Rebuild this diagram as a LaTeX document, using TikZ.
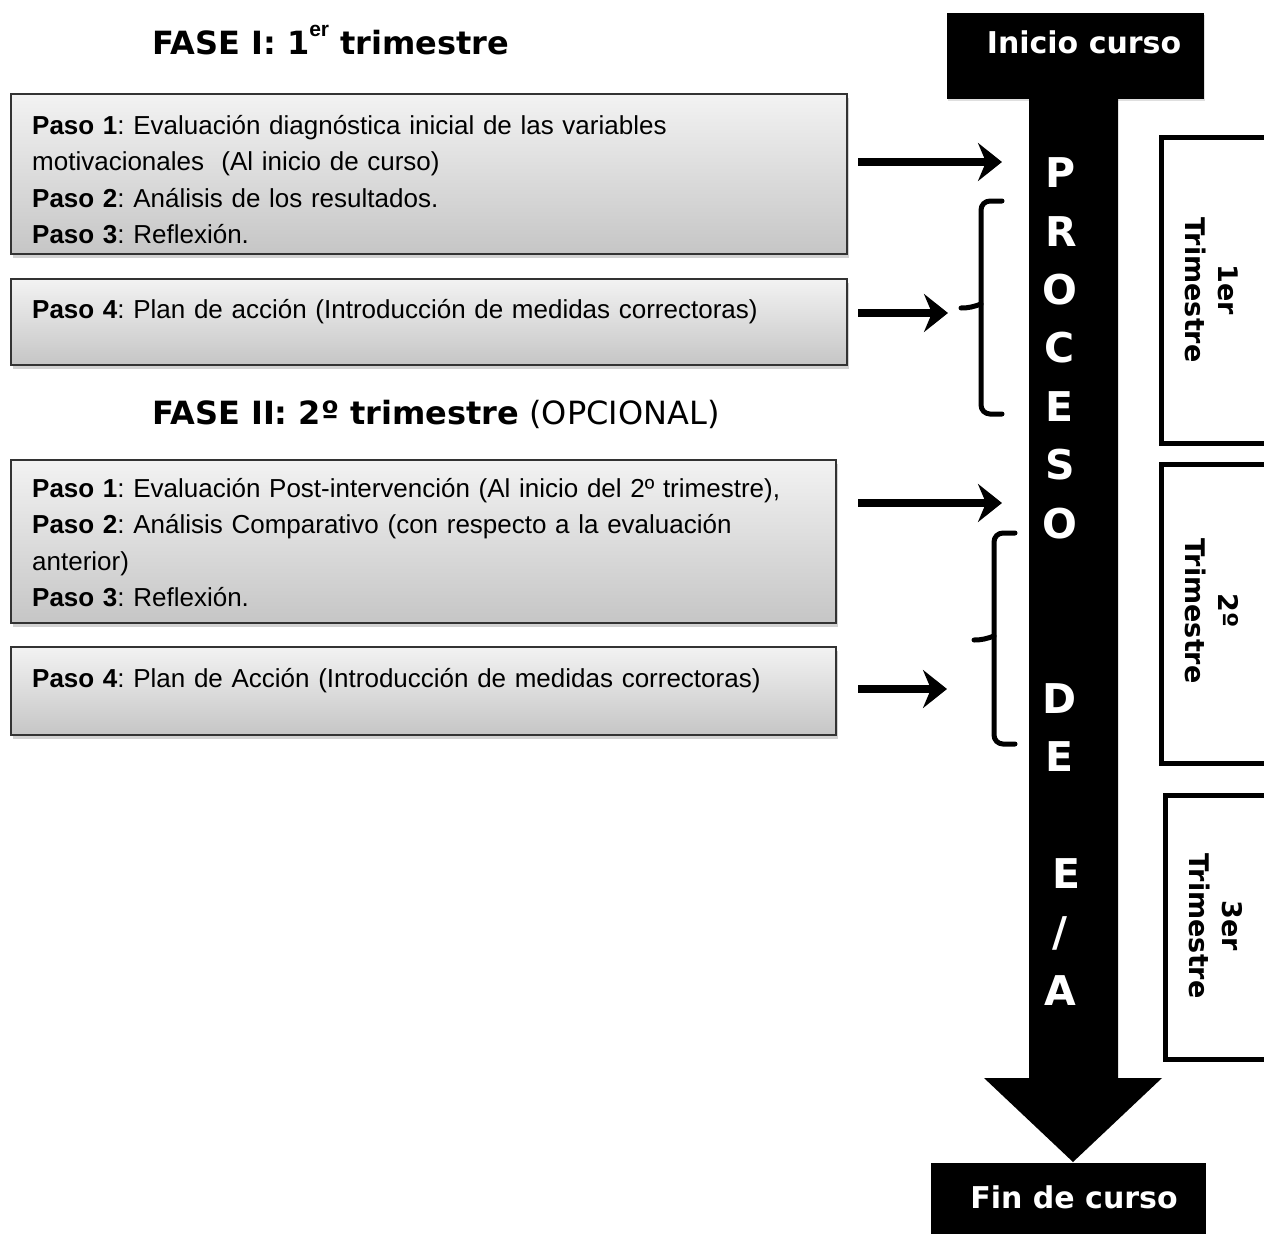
\documentclass[tikz,border=0pt]{standalone}
\usepackage{fontspec}
\setmainfont{Liberation Sans}
\newfontfamily\dvs{DejaVu Sans}
\usetikzlibrary{arrows.meta,shadows}
\frenchspacing

\tikzset{
  stepbox/.style={draw=black!80, line width=2.2pt, top color=gray!10, bottom color=gray!45,
    drop shadow={shadow xshift=1.5pt, shadow yshift=-4pt, opacity=0.35},
    anchor=north west, inner sep=0},
  steptext/.style={anchor=base west, inner sep=0, text width=800pt, align=left,
    font=\fontsize{26}{36.6}\selectfont},
  phase/.style={anchor=base west, inner sep=0, font=\fontsize{32}{38}\dvs},
  blackbox/.style={fill=black, anchor=north west, inner sep=0},
  endlabel/.style={text=white, inner sep=0, anchor=base, font=\fontsize{30}{36}\dvs\bfseries},
  vletter/.style={text=white, inner sep=0, anchor=base, font=\fontsize{41}{41}\dvs\bfseries},
  termbox/.style={draw=black, line width=4.5pt, fill=white, anchor=north west, inner sep=0},
  termtext/.style={rotate=-90, align=center, inner sep=0, font=\fontsize{27}{33}\dvs\bfseries},
  pointer/.style={line width=8pt, -{Stealth[length=24pt, width=38pt, inset=8pt]}},
  brace/.style={line width=5pt, rounded corners=9pt, line cap=round},
}

\begin{document}
\begin{tikzpicture}[x=1pt,y=-1pt]
\useasboundingbox (0,0) rectangle (1264,1234);
\clip (0,0) rectangle (1264,1234);
\fill[white] (0,0) rectangle (1264,1234);

% phase headings
\node[phase] (f1) at (152,54) {\bfseries FASE I: 1\raisebox{18pt}{\fontsize{21}{21}\rmfamily\bfseries er} trimestre};
\node[phase] (f2) at (152,424) {\textbf{FASE II: 2º trimestre} (OPCIONAL)};

% step boxes
\node[stepbox, minimum width=836pt, minimum height=160pt] (b1) at (10,93) {};
\node[stepbox, minimum width=836pt, minimum height=86pt]  (b2) at (10,278) {};
\node[stepbox, minimum width=825pt, minimum height=163pt] (b3) at (10,459) {};
\node[stepbox, minimum width=825pt, minimum height=88pt]  (b4) at (10,646) {};

\node[steptext] (s1) at (32,134) {\textbf{Paso 1}: Evaluación diagnóstica inicial de las variables\\
motivacionales~ (Al inicio de curso)\\
\textbf{Paso 2}: Análisis de los resultados.\\
\textbf{Paso 3}: Reflexión.};
\node[steptext] (s2) at (32,318) {\textbf{Paso 4}: Plan de acción (Introducción de medidas correctoras)};
\node[steptext] (s3) at (32,497) {\textbf{Paso 1}: Evaluación Post-intervención (Al inicio del 2º trimestre),\\
\textbf{Paso 2}: Análisis Comparativo (con respecto a la evaluación\\
anterior)\\
\textbf{Paso 3}: Reflexión.};
\node[steptext] (s4) at (32,687) {\textbf{Paso 4}: Plan de Acción (Introducción de medidas correctoras)};

% timeline: start block, shaft with arrow head, end block
\node[blackbox, minimum width=257pt, minimum height=86pt,
  drop shadow={shadow xshift=1pt, shadow yshift=-2pt, opacity=0.25}] (ini) at (947,13) {};
\node[endlabel] (inil) at (1084,53) {Inicio curso};
\fill (1029,98) -- (1118,98) -- (1118,1078) -- (1162,1078) -- (1073,1162)
  -- (984,1078) -- (1029,1078) -- cycle;
\node[blackbox, minimum width=275pt, minimum height=90pt] (fin) at (931,1163) {};
\node[endlabel] (finl) at (1074,1208) {Fin de curso};

\foreach \ch/\xx/\yy [count=\k] in {P/1061/187, R/1061/246, O/1060/304, C/1060/362,
    E/1059/421, S/1060/479, O/1060/538, D/1060/713, E/1059/771, E/1066/888,
    \slash/1060/946, A/1060/1005}
  \node[vletter] (v\k) at (\xx,\yy) {\ch};

% term boxes
\node[termbox, minimum width=140pt, minimum height=306pt] (q1) at (1159,135) {};
\node[termbox, minimum width=140pt, minimum height=299pt] (q2) at (1159,462) {};
\node[termbox, minimum width=140pt, minimum height=264pt] (q3) at (1163,793) {};
\node[termtext] (q1t) at (1212,290) {1er\\Trimestre};
\node[termtext] (q2t) at (1212,611) {2º\\Trimestre};
\node[termtext] (q3t) at (1216,926) {3er\\Trimestre};

% pointers from the steps to the timeline
\coordinate (p1s) at (858,162); \coordinate (p1e) at (1002,162);
\coordinate (p2s) at (858,313); \coordinate (p2e) at (948,313);
\coordinate (p3s) at (858,503); \coordinate (p3e) at (1002,503);
\coordinate (p4s) at (858,689); \coordinate (p4e) at (947,689);
\draw[pointer] (p1s) -- (p1e);
\draw[pointer] (p2s) -- (p2e);
\draw[pointer] (p3s) -- (p3e);
\draw[pointer] (p4s) -- (p4e);

% braces
\draw[brace] (1002,201) -| (981,414) -- (1002,414);
\draw[line width=5pt, line cap=round] (981,304) to[out=200,in=0] (961,308);
\draw[brace] (1015,533) -| (994,744) -- (1015,744);
\draw[line width=5pt, line cap=round] (994,636) to[out=200,in=0] (974,640);
\end{tikzpicture}
\end{document}
